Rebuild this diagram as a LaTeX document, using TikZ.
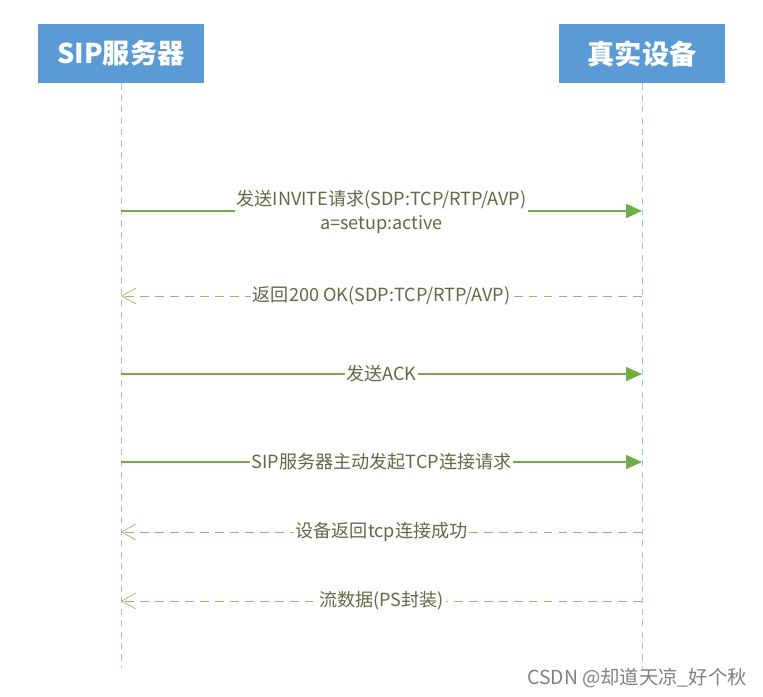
\documentclass[tikz,border=0pt]{standalone}
\usepackage{fontspec}
\newfontfamily\cjkfont{Noto Sans CJK SC}
\usetikzlibrary{positioning,arrows.meta}
\definecolor{roleblue}{HTML}{5B9BD5}
\definecolor{lifeblue}{HTML}{9DC3E6}
\definecolor{msggreen}{HTML}{70AD47}
\definecolor{msgtext}{HTML}{5F6B45}

\begin{document}
\begin{tikzpicture}[
    x=0.02cm, y=-0.02cm,
    role/.style={rectangle, fill=roleblue, text=white, minimum width=166*0.02cm, minimum height=59*0.02cm, font=\cjkfont\fontsize{15.5}{18}\selectfont\bfseries},
    lifeline/.style={lifeblue, dash pattern=on 3.5pt off 3pt, thin},
    msglabel/.style={fill=white, text=msgtext, inner xsep=1pt, inner ysep=0.5pt, font=\cjkfont\fontsize{10.3}{14}\selectfont, align=center},
    callarrow/.style={-{Triangle[length=9pt,width=8pt]}, msggreen, semithick},
    replyarrow/.style={-{Straight Barb[length=8pt,width=9pt]}, msggreen!80, thin, dash pattern=on 5pt off 3.5pt}
]
    \useasboundingbox (0,0) rectangle (763,696);

    % participants
    \node[role] (server) at (121,53.5) {SIP服务器};
    \node[role] (device) at (642,53.5) {真实设备};

    % lifelines
    \coordinate (serverend) at (121,668);
    \coordinate (deviceend) at (642,668);
    \draw[lifeline] (server) -- (serverend);
    \draw[lifeline] (device) -- (deviceend);

    % message ends on the lifelines
    \foreach \i/\y in {1/211, 2/296, 3/374, 4/462, 5/532, 6/601} {
        \coordinate (s\i) at (121,\y);
        \coordinate (d\i) at (642,\y);
    }

    % messages
    \draw[callarrow] (s1) -- (d1);
    \node[msglabel] (invite) at (381.5,212) {发送INVITE请求(SDP:TCP/RTP/AVP)\\a=setup:active};

    \draw[replyarrow] (d2) -- (s2);
    \node[msglabel] (ok) at (381.5,296) {返回200 OK(SDP:TCP/RTP/AVP)};

    \draw[callarrow] (s3) -- (d3);
    \node[msglabel] (ack) at (381.5,374) {发送ACK};

    \draw[callarrow] (s4) -- (d4);
    \node[msglabel] (tcpreq) at (381.5,462) {SIP服务器主动发起TCP连接请求};

    \draw[replyarrow] (d5) -- (s5);
    \node[msglabel] (tcpok) at (381.5,532) {设备返回tcp连接成功};

    \draw[replyarrow] (d6) -- (s6);
    \node[msglabel] (stream) at (381.5,601) {流数据(PS封装)};

    \node[anchor=east, text=black!50, font=\cjkfont\fontsize{11}{12}\selectfont, inner sep=0pt] (mark) at (747,678) {CSDN @却道天凉\_好个秋};
\end{tikzpicture}
\end{document}
